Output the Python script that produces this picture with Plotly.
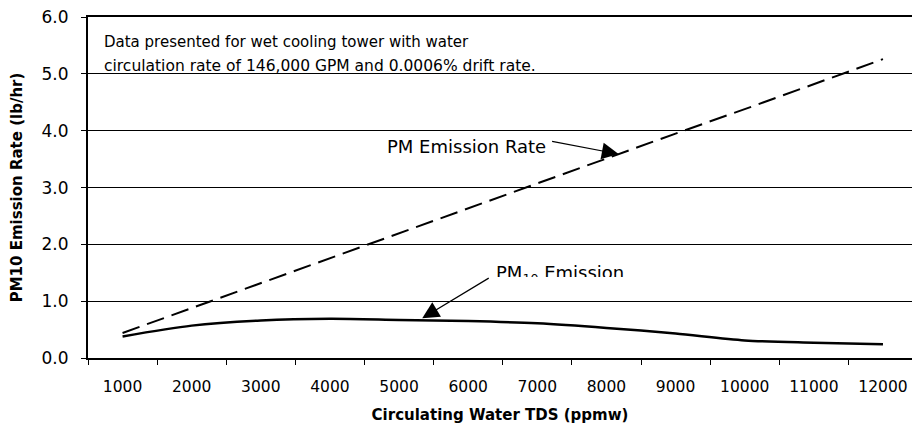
import plotly.graph_objects as go

tds = [1000, 2000, 3000, 4000, 5000, 6000, 7000, 8000, 9000, 10000, 11000, 12000]
pm_rate = [0.44, 0.88, 1.32, 1.75, 2.19, 2.63, 3.07, 3.51, 3.95, 4.38, 4.82, 5.26]
pm10_rate = [0.38, 0.57, 0.66, 0.69, 0.67, 0.65, 0.61, 0.53, 0.43, 0.31, 0.27, 0.24]
y_ticks = [0, 1, 2, 3, 4, 5, 6]
y_labels = ["0.0", "1.0", "2.0", "3.0", "4.0", "5.0", "6.0"]

FONT = "DejaVu Sans, Liberation Sans, Arial, sans-serif"

fig = go.Figure()
fig.add_trace(go.Scatter(x=tds, y=pm_rate, mode="lines",
                         line=dict(color="black", width=2, dash="18px,8px"),
                         showlegend=False))
fig.add_trace(go.Scatter(x=tds, y=pm10_rate, mode="lines",
                         line=dict(color="black", width=2.5, shape="spline", smoothing=0.8),
                         showlegend=False))

fig.update_layout(
    width=904, height=419,
    margin=dict(l=80, r=0, t=9, b=69),
    paper_bgcolor="white", plot_bgcolor="white",
    font=dict(family=FONT, size=15, color="black"),
    showlegend=False,
)
fig.update_xaxes(
    range=[500, 12420], automargin=False, ticklabeloverflow="allow",
    tickvals=tds, ticktext=[str(v) for v in tds],
    ticks="", ticklabelstandoff=14,
    showgrid=False, zeroline=False,
    showline=True, linecolor="black", linewidth=1.5, mirror=True,
    minor=dict(tick0=500, dtick=1000, ticks="outside", ticklen=5, tickcolor="black", showgrid=False),
    tickfont=dict(size=15.5),
    title=dict(text="<b>Circulating Water TDS (ppmw)</b>", font=dict(size=15), standoff=14),
)
fig.update_yaxes(
    range=[0, 6.002], automargin=False, ticklabeloverflow="allow",
    tickvals=y_ticks, ticktext=y_labels,
    ticks="outside", ticklen=5, tickcolor="black",
    ticklabelstandoff=9,
    showgrid=True, gridcolor="black", gridwidth=1,
    zeroline=False,
    showline=True, linecolor="black", linewidth=2,
    tickfont=dict(size=17),
    title=dict(text="<b>PM10 Emission Rate (lb/hr)</b>", font=dict(size=15), standoff=25),
)

# Note text
fig.add_annotation(x=700, y=5.56, xref="x", yref="y", xanchor="left", yanchor="middle",
                   text="Data presented for wet cooling tower with water", showarrow=False,
                   font=dict(size=15))
fig.add_annotation(x=700, y=5.14, xref="x", yref="y", xanchor="left", yanchor="middle",
                   text="circulation rate of 146,000 GPM and 0.0006% drift rate.", showarrow=False,
                   font=dict(size=15.5))

# PM Emission Rate label + arrow
fig.add_annotation(x=4790, y=3.73, xref="x", yref="y", xanchor="left", yanchor="middle",
                   text="PM Emission Rate", showarrow=False, font=dict(size=18))
fig.add_annotation(x=8176, y=3.59, xref="x", yref="y", text="", showarrow=True,
                   ax=-68, ay=-13, arrowhead=2, arrowsize=2.8, arrowwidth=1.2, arrowcolor="black")

# PM10 Emission label (clipped) + arrow
fig.add_annotation(x=6368, y=1.48, xref="x", yref="y", xanchor="left", yanchor="middle",
                   text="PM<sub>10</sub> Emission", showarrow=False, font=dict(size=18))
fig.add_annotation(x=6339, y=1.43, xref="x", yref="y", xanchor="left", yanchor="top",
                   text=" ", showarrow=False, bgcolor="white", width=165, height=18,
                   borderpad=0, borderwidth=0)
fig.add_annotation(x=5335, y=0.70, xref="x", yref="y", text="", showarrow=True,
                   ax=68, ay=-41, arrowhead=2, arrowsize=2.8, arrowwidth=1.2, arrowcolor="black")

fig.write_html("out.html")
